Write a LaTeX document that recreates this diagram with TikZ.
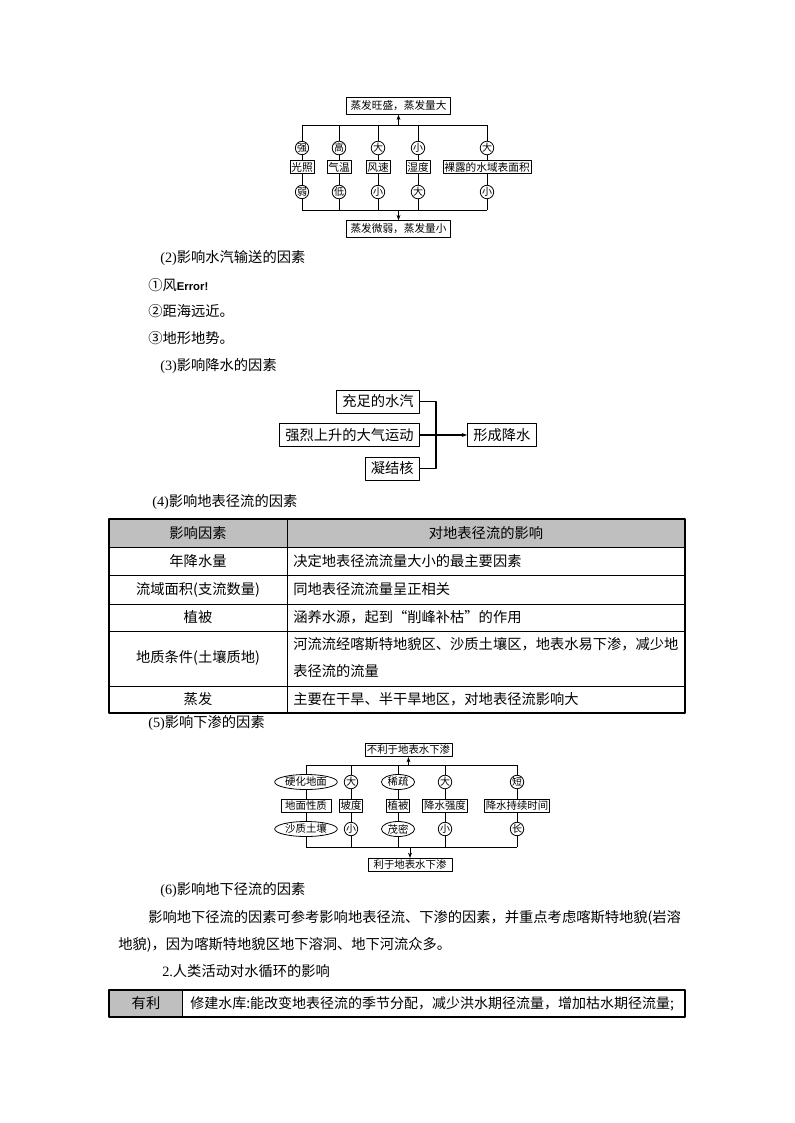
\documentclass[tikz,border=0pt]{standalone}
\usepackage{fontspec}
\setmainfont{Noto Sans CJK SC}
\newfontfamily\tnr{Liberation Serif}
\newfontfamily\arl{Liberation Sans}
\usetikzlibrary{arrows.meta,shapes.geometric}
\newcommand\fsz[1]{\fontsize{#1}{#1}\selectfont}
\def\px{0.75pt}
\tikzset{
	txt/.style={anchor=west, inner sep=0pt, font=\fsz{10.7}},
	cell/.style={inner sep=0pt, font=\fsz{10.7}},
	circ/.style={circle, draw, fill=white, inner sep=0pt, minimum size=10pt, font=\fsz{7.5}},
	ell/.style={ellipse, draw, fill=white, inner xsep=1pt, inner ysep=0pt, minimum height=15*\px, font=\fsz{7.8}},
	sbox/.style={draw, fill=white, inner sep=1pt, font=\fsz{8}},
	dbox/.style={draw, fill=white, inner sep=1pt, font=\fsz{7.8}},
	bigbox/.style={draw, inner xsep=3pt, inner ysep=2.5pt, font=\fsz{8}},
	wbox/.style={draw, inner xsep=4.5pt, inner ysep=3.5pt, font=\fsz{10.7}}
}
\begin{document}
\begin{tikzpicture}[x=0.75pt, y=-0.75pt, line join=round, >={Stealth[length=4pt,width=3pt]}]
	\fill[white] (0,0) rectangle (794,1123);
	\useasboundingbox (0,0) rectangle (794,1123);
	% evaporation
	\begin{scope}[line width=0.6pt]
		\node[bigbox] (up1) at (398.5,106) {蒸发旺盛，蒸发量大};
		\node[bigbox] (dn1) at (398.5,229) {蒸发微弱，蒸发量小};
		\foreach \i/\x/\a/\f/\b in {1/302/强/光照/弱, 2/339/高/气温/低, 3/378/大/风速/小, 4/418/小/湿度/大, 5/487/大/裸露的水域表面积/小}{
			\coordinate (t\i) at (\x,125);
			\coordinate (d\i) at (\x,210);
			\node[circ] (a\i) at (\x,148) {\a};
			\node[sbox] (f\i) at (\x,167) {\f};
			\node[circ] (b\i) at (\x,192) {\b};
			\draw (t\i) -- (a\i) -- (f\i) -- (b\i) -- (d\i);
		}
		\draw (t1) -- (t5);
		\draw (d1) -- (d5);
		\draw[->] (up1.south |- t1) -- (up1);
		\draw[->] (dn1.north |- d1) -- (dn1);
	\end{scope}
	\node[txt] (s2) at (160,258) {{\tnr (2)}影响水汽输送的因素};
	\node[txt] (s21) at (148,285) {①风{\arl\bfseries\fsz{8.5}Error!}};
	\node[txt] (s22) at (148,311) {②距海远近。};
	\node[txt] (s23) at (148,338) {③地形地势。};
	\node[txt] (s3) at (160,366) {{\tnr (3)}影响降水的因素};
	% precipitation
	\node[wbox, anchor=east] (w1) at (420,401.5) {充足的水汽};
	\node[wbox, anchor=east] (w2) at (420,435) {强烈上升的大气运动};
	\node[wbox, anchor=east] (w3) at (420,468.5) {凝结核};
	\node[wbox, anchor=west] (rain) at (467,435) {形成降水};
	\coordinate (jn) at (436,435);
	\draw[line width=0.8pt] (w1) -| (jn) |- (w3);
	\draw[line width=0.8pt, ->] (w2) -- (rain);
	\node[txt] (s4) at (152,502) {{\tnr (4)}影响地表径流的因素};
	% runoff table
	\fill[black!25] (109,519) rectangle (685,547);
	\foreach \y in {547,575,604,631,686}
	\draw[line width=0.7pt] (109,\y) -- (685,\y);
	\draw[line width=0.7pt] (287,519) -- (287,713);
	\draw[line width=0.9pt] (109,519) rectangle (685,713);
	\node[cell] (h1) at (198,533) {影响因素};
	\node[cell] (h2) at (486,533) {对地表径流的影响};
	\node[cell] (l1) at (198,561) {年降水量};
	\node[cell] (l2) at (198,589.5) {流域面积(支流数量)};
	\node[cell] (l3) at (198,617.5) {植被};
	\node[cell] (l4) at (198,658) {地质条件(土壤质地)};
	\node[cell] (l5) at (198,699.5) {蒸发};
	\node[txt] (r1) at (293,561) {决定地表径流流量大小的最主要因素};
	\node[txt] (r2) at (293,589.5) {同地表径流流量呈正相关};
	\node[txt] (r3) at (293,617.5) {涵养水源，起到“削峰补枯”的作用};
	\node[txt] (r4a) at (293,644) {河流流经喀斯特地貌区、沙质土壤区，地表水易下渗，减少地};
	\node[txt] (r4b) at (293,671) {表径流的流量};
	\node[txt] (r5) at (293,699.5) {主要在干旱、半干旱地区，对地表径流影响大};
	\node[txt] (s5) at (148,723) {{\tnr (5)}影响下渗的因素};
	% infiltration
	\begin{scope}[line width=0.6pt]
		\node[dbox, inner xsep=1.4pt, inner ysep=1.4pt] (up5) at (408.5,750) {不利于地表水下渗};
		\node[dbox, inner ysep=1.4pt, minimum width=84*\px] (dn5) at (410,865) {利于地表水下渗};
		\foreach \i/\x/\s/\w/\a/\f/\b in {1/306/ell/50/硬化地面/地面性质/沙质土壤, 2/351/circ/0/大/坡度/小, 3/398/ell/0/稀疏/植被/茂密, 4/445/circ/0/大/降水强度/小, 5/517/circ/0/短/降水持续时间/长}{
			\coordinate (u\i) at (\x,765);
			\coordinate (v\i) at (\x,847);
			\node[\s] (m\i) at (\x,782) {\a};
			\node[dbox, minimum width=\w*\px] (g\i) at (\x,806) {\f};
			\node[\s] (n\i) at (\x,829) {\b};
			\draw (u\i) -- (m\i) -- (g\i) -- (n\i) -- (v\i);
		}
		\draw (u1) -- (u5);
		\draw (v1) -- (v5);
		\draw[->] (up5.south |- u1) -- (up5);
		\draw[->] (dn5.north |- v1) -- (dn5);
	\end{scope}
	\node[txt] (s6) at (160,890) {{\tnr (6)}影响地下径流的因素};
	\node[txt] (p1) at (148,918) {影响地下径流的因素可参考影响地表径流、下渗的因素，并重点考虑喀斯特地貌(岩溶};
	\node[txt] (p2) at (118,945) {地貌)，因为喀斯特地貌区地下溶洞、地下河流众多。};
	\node[txt] (s7) at (162,971) {{\tnr 2.}人类活动对水循环的影响};
	% human activity table
	\fill[black!25] (109,990) rectangle (182,1017);
	\draw[line width=0.7pt] (182,990) -- (182,1017);
	\draw[line width=0.9pt] (109,990) rectangle (685,1017);
	\node[cell] (k1) at (146,1003.5) {有利};
	\node[txt, font=\fsz{10.5}] (k2) at (190,1003.5) {修建水库:能改变地表径流的季节分配，减少洪水期径流量，增加枯水期径流量;};
\end{tikzpicture}
\end{document}
